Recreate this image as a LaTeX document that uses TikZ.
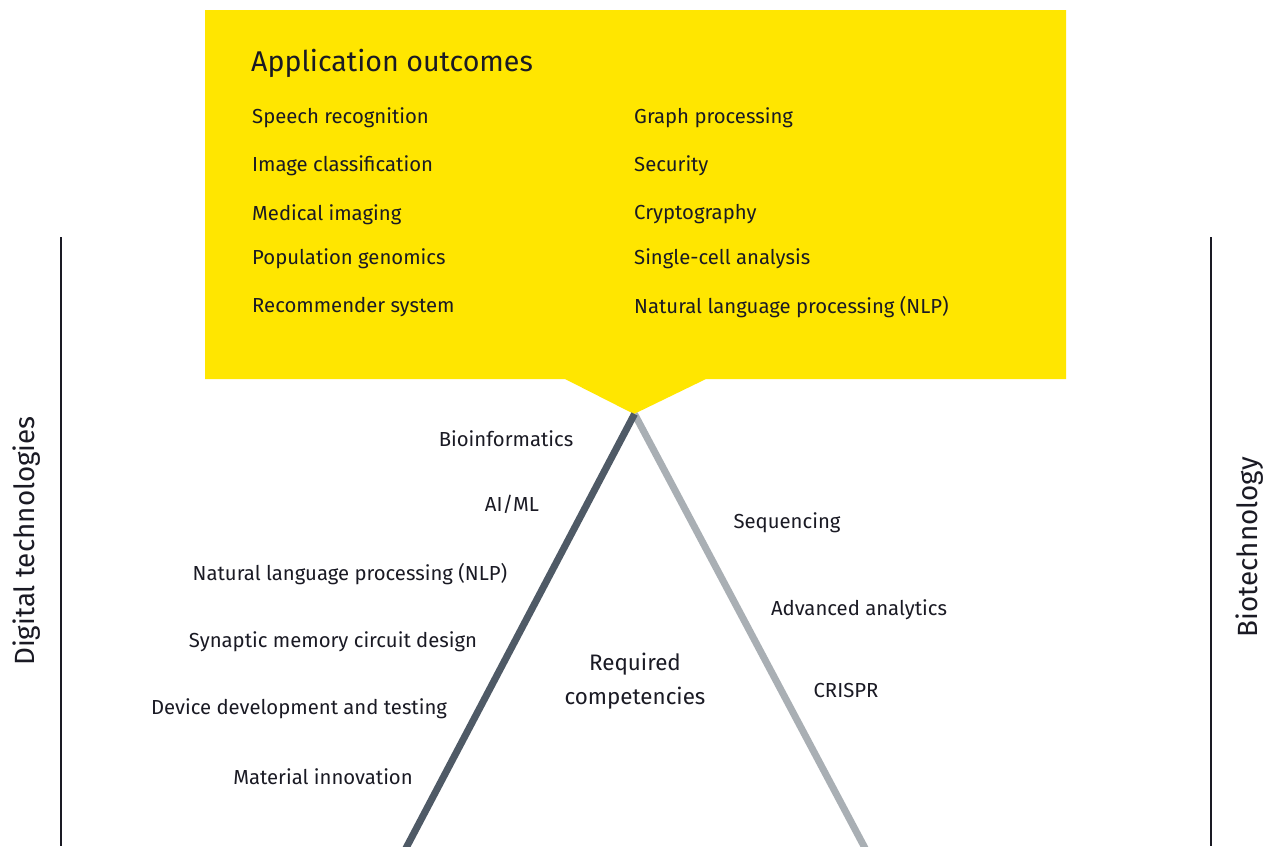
\documentclass[tikz,border=0pt]{standalone}
\usepackage{fontspec}
\setmainfont{Fira Sans}
\begin{document}
\begin{tikzpicture}[x=1pt,y=-1pt,
  txt/.style={text=ink,inner sep=0pt,font=\fontsize{20.3}{24}\selectfont},
  item/.style={txt,anchor=west},
  side/.style={txt,font=\fontsize{27.8}{32}\selectfont,rotate=90},
  axis/.style={draw=ink,line width=2pt},
  leg/.style={line width=7pt}]
\definecolor{ink}{HTML}{1A1A24}
\definecolor{eyyellow}{HTML}{FFE600}
\definecolor{darkleg}{HTML}{4F5A66}
\definecolor{lightleg}{HTML}{A9AFB4}
\useasboundingbox (0,0) rectangle (1271,846);
\fill[white] (0,0) rectangle (1271,846);
% callout box with pointer
\fill[eyyellow] (205,10) -- (1066,10) -- (1066,379) -- (706,379) -- (634,414) -- (565,379) -- (205,379) -- cycle;
\coordinate (apex) at (634.5,414);
\coordinate (lfoot) at (405,850);
\coordinate (rfoot) at (866,850);
% triangle legs
\draw[leg,draw=lightleg] (apex) -- (rfoot);
\draw[leg,draw=darkleg] (apex) -- (lfoot);
% side axes
\coordinate (lt) at (61,237); \coordinate (lb) at (61,846);
\coordinate (rt) at (1211,237); \coordinate (rb) at (1211,846);
\draw[axis] (lt) -- (lb);
\draw[axis] (rt) -- (rb);
\node[side] (dig) at (27,541) {Digital technologies};
\node[side] (bio) at (1250,547) {Biotechnology};
% outcomes
\node[item,font=\fontsize{28.6}{34}\selectfont] (title) at (251,63.5) {Application outcomes};
\node[item] (o1) at (252,117.5) {Speech recognition};
\node[item] (o2) at (252,165.5) {Image classification};
\node[item] (o3) at (252,214.5) {Medical imaging};
\node[item] (o4) at (252,258.5) {Population genomics};
\node[item] (o5) at (252,307.5) {Recommender system};
\node[item] (o6) at (634,117.5) {Graph processing};
\node[item] (o7) at (634,165.5) {Security};
\node[item] (o8) at (634,214.5) {Cryptography};
\node[item] (o9) at (634,258.5) {Single-cell analysis};
\node[item] (o10) at (634,307.5) {Natural language processing (NLP)};
% digital competencies
\node[txt] (c1) at (506,438.5) {Bioinformatics};
\node[txt] (c2) at (512,504.5) {AI/ML};
\node[txt] (c3) at (350,574.5) {Natural language processing (NLP)};
\node[txt] (c4) at (333,641.5) {Synaptic memory circuit design};
\node[txt] (c5) at (299,708.5) {Device development and testing};
\node[txt] (c6) at (323,776.5) {Material innovation};
% biotech competencies
\node[txt] (b1) at (787,522.5) {Sequencing};
\node[txt] (b2) at (859,609.5) {Advanced analytics};
\node[txt] (b3) at (846,690.5) {CRISPR};
% centre label
\node[txt,font=\fontsize{22.4}{34}\selectfont,align=center] (req) at (635,681.5) {Required\\competencies};
\end{tikzpicture}
\end{document}
